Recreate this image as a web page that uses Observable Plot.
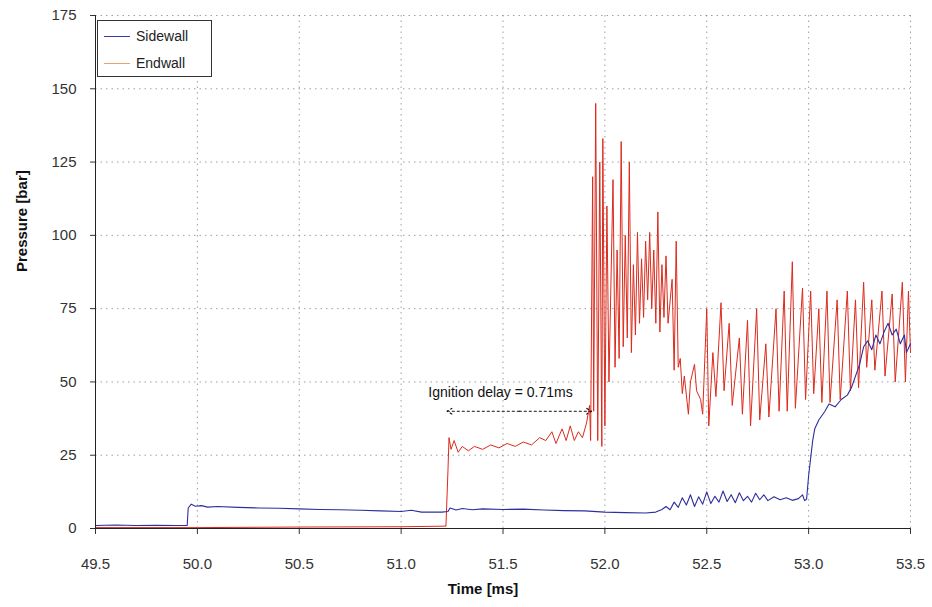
<!DOCTYPE html>
<html><head><meta charset="utf-8">
<script src="https://cdn.jsdelivr.net/npm/d3@7"></script>
<script src="https://cdn.jsdelivr.net/npm/@observablehq/plot@0.6"></script>
<style>
body{margin:0;background:#fff;font-family:"Liberation Sans",Arial,sans-serif;}
#wrap{position:relative;width:932px;height:607px;}
#legend{position:absolute;left:97px;top:20px;width:113px;height:55px;border:1px solid #333;background:#fff;font-size:14px;color:#222;}
#legend div{display:flex;align-items:center;height:24px;margin-top:3px;}
#legend span.sw{display:inline-block;width:26px;height:0;border-top:1.5px solid;margin:0 6px 0 6px;}
</style></head>
<body><div id="wrap"><div id="chart"></div>
<div id="legend"><div><span class="sw" style="border-color:#3a3aa8"></span>Sidewall</div><div><span class="sw" style="border-color:#e8a070"></span>Endwall</div></div></div>
<script>
const xTicks = [49.5, 50.0, 50.5, 51.0, 51.5, 52.0, 52.5, 53.0, 53.5];
const yTicks = [0, 25, 50, 75, 100, 125, 150, 175];

const sideT = [49.50,49.60,49.70,49.80,49.90,49.95,49.955,49.97,49.99,50.02,50.05,50.10,50.20,50.30,50.40,50.50,50.60,50.70,50.80,50.90,51.00,51.05,51.10,51.20,51.23,51.24,51.27,51.30,51.35,51.40,51.50,51.60,51.70,51.80,51.90,52.00,52.10,52.20,52.25,52.28,52.30,52.32,52.34,52.36,52.38,52.40,52.42,52.44,52.46,52.48,52.50,52.52,52.54,52.56,52.58,52.60,52.62,52.64,52.66,52.68,52.70,52.72,52.74,52.76,52.78,52.80,52.83,52.86,52.89,52.92,52.95,52.97,52.98,52.99,53.00,53.01,53.02,53.03,53.05,53.08,53.10,53.13,53.16,53.19,53.21,53.23,53.25,53.27,53.29,53.31,53.33,53.35,53.37,53.39,53.41,53.43,53.45,53.47,53.48,53.50];
const sideP = [1.0,1.2,1.0,1.1,1.0,1.0,7.0,8.3,7.6,7.8,7.3,7.5,7.2,7.0,6.9,6.7,6.5,6.4,6.2,6.0,5.8,6.2,5.6,5.6,5.8,7.0,6.3,6.8,6.4,6.7,6.5,6.6,6.3,6.1,6.0,5.6,5.4,5.3,5.6,6.5,7.5,6.4,9.0,7.2,10.5,8.0,11.5,7.5,10.8,8.3,12.5,8.5,11.0,9.0,12.8,9.2,11.5,8.8,12.2,9.5,11.0,9.0,12.0,9.8,11.5,9.5,10.8,9.8,10.5,9.6,10.2,11.5,9.5,10.0,18,24,30,34,37,40,42.5,41.5,44,45.5,48,52,56,62,64,61,66,63,67,70,66,68,63,66,60,63];

const endT = [49.50,50.00,50.50,51.00,51.22,51.23,51.235,51.245,51.26,51.28,51.30,51.33,51.36,51.40,51.44,51.48,51.52,51.56,51.60,51.64,51.68,51.71,51.74,51.76,51.79,51.81,51.83,51.85,51.87,51.89,51.91,51.925,51.93,51.94,51.945,51.955,51.965,51.975,51.985,51.99,52.00,52.01,52.02,52.04,52.05,52.06,52.07,52.08,52.09,52.10,52.11,52.12,52.13,52.14,52.15,52.16,52.17,52.18,52.19,52.20,52.21,52.22,52.23,52.24,52.25,52.26,52.27,52.28,52.29,52.30,52.31,52.33,52.34,52.35,52.36,52.37,52.38,52.39,52.41,52.42,52.44,52.45,52.47,52.48,52.50,52.51,52.53,52.545,52.57,52.585,52.61,52.625,52.66,52.675,52.70,52.715,52.745,52.76,52.79,52.805,52.84,52.855,52.88,52.895,52.92,52.935,52.97,52.985,53.01,53.025,53.05,53.065,53.09,53.105,53.14,53.155,53.19,53.205,53.23,53.245,53.27,53.285,53.31,53.325,53.36,53.375,53.41,53.425,53.46,53.475,53.49,53.50];
const endP = [0.3,0.3,0.5,0.6,0.8,20,31,27,30,26,28,26.5,28,27,28.5,27.5,29,28,29.5,28.5,31,30,33,29,34,30,35,30,33,31,36,42,30,120,40,145,30,125,28,133,35,110,50,119,55,95,58,132,62,100,65,125,60,90,66,101,70,92,72,98,78,101,75,95,70,108,67,90,72,93,70,85,54,98,55,58,46,52,39,50,56,47,44,39,75,35,60,45,77,47,70,42,65,39,71,35,75,37,63,38,75,40,81,40,91,41,82,44,81,46,75,43,81,43,78,44,81,47,78,48,84,55,78,54,81,52,80,50,84,50,81,60];

const delayStart = 51.225, delayEnd = 51.935, delayMid = 51.58, arrowY = 40;
const annText = "Ignition delay = 0.71ms", annX = 51.488, annY = 46.5;

const side = sideT.map((t,i)=>({t, p: sideP[i]}));
const end = endT.map((t,i)=>({t, p: endP[i]}));

const chart = Plot.plot({
  width: 932, height: 607,
  marginLeft: 95, marginRight: 22, marginTop: 15, marginBottom: 79,
  x: {domain: [49.5, 53.5]},
  y: {domain: [0, 175]},
  style: {fontFamily: "Liberation Sans, Arial, sans-serif", fontSize: "15px", background: "white", color: "#333"},
  marks: [
    Plot.gridX(xTicks, {stroke: "#777", strokeOpacity: 0.7, strokeDasharray: "1.5,4"}),
    Plot.gridY(yTicks, {stroke: "#777", strokeOpacity: 0.7, strokeDasharray: "1.5,4"}),
    Plot.line(end, {x: "t", y: "p", stroke: "#dc2a1c", strokeWidth: 1}),
    Plot.line(side, {x: "t", y: "p", stroke: "#2e2e9e", strokeWidth: 1.1}),
    Plot.arrow([{x1: delayMid, x2: delayStart}, {x1: delayMid, x2: delayEnd}], {x1: "x1", x2: "x2", y1: arrowY, y2: arrowY, stroke: "#111", strokeWidth: 1.2, strokeDasharray: "2,3", headLength: 7}),
    Plot.text([annText], {x: annX, y: annY, text: d => d, fontSize: 14, fill: "#111"}),
    Plot.axisX({ticks: xTicks, tickFormat: d => d.toFixed(1), tickSize: 6, tickPadding: 24, label: null, fontSize: 15}),
    Plot.axisY({ticks: yTicks, tickSize: 5, tickPadding: 14, label: null, fontSize: 15}),
    Plot.ruleX([49.5], {stroke: "#222"}),
    Plot.ruleY([0], {stroke: "#222"}),
    Plot.text(["Pressure [bar]"], {frameAnchor: "left", dx: -73, rotate: -90, fontWeight: "bold", fontSize: 15, fill: "#111"}),
    Plot.text(["Time [ms]"], {frameAnchor: "bottom", dy: 65, dx: -20, fontWeight: "bold", fontSize: 15, fill: "#111"})
  ]
});
document.getElementById("chart").appendChild(chart);
</script></body></html>
